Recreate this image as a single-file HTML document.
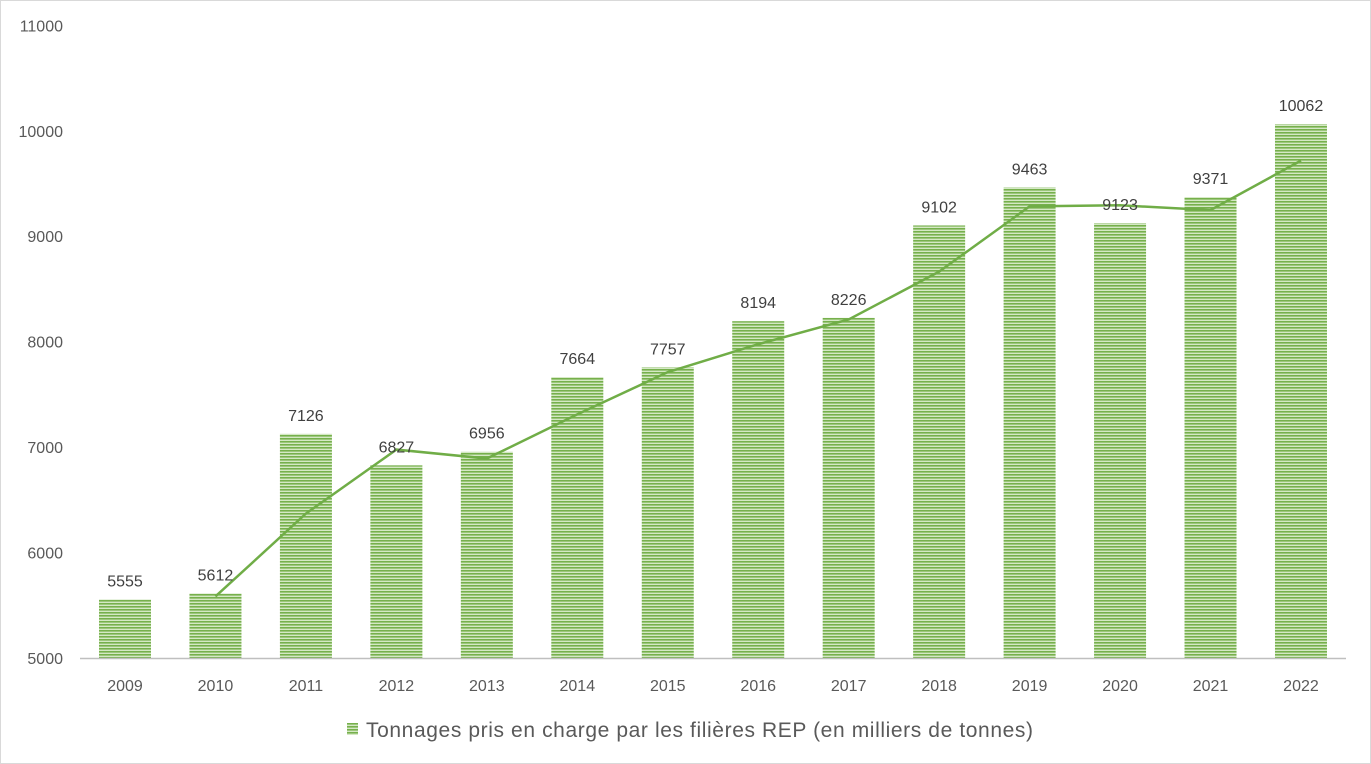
<!DOCTYPE html>
<html><head><meta charset="utf-8"><style>
body{margin:0;background:#fff;}
svg{display:block;font-family:"Liberation Sans",Arial,sans-serif;}
</style></head><body>
<svg id="chart" width="1371" height="764">
<defs>
<pattern id="stripes" width="4" height="3" patternUnits="userSpaceOnUse">
<rect width="4" height="3" fill="#d4e8c4"/>
<rect width="4" height="1.6" fill="#76b04c"/>
</pattern>
</defs>
<rect x="0.5" y="0.5" width="1370" height="763" fill="#fff" stroke="#d9d9d9"/>
<g id="yaxis"></g>
<g id="bars"></g>
<line x1="80" y1="658.5" x2="1346" y2="658.5" stroke="#bfbfbf" stroke-width="1.5"/>
<g id="xaxis"></g>
<polyline id="trend" fill="none" stroke="#70ad47" stroke-width="2.5"/>
<g id="labels"></g>
<g>
<rect x="347" y="723" width="11" height="12" fill="url(#stripes)"/>
<text x="366" y="737" font-size="21" fill="#595959" textLength="667" lengthAdjust="spacing">Tonnages pris en charge par les filières REP (en milliers de tonnes)</text>
</g>
</svg>
<script>
const categories=["2009","2010","2011","2012","2013","2014","2015","2016","2017","2018","2019","2020","2021","2022"];
const values=[5555,5612,7126,6827,6956,7664,7757,8194,8226,9102,9463,9123,9371,10062];
const yTicks=[5000,6000,7000,8000,9000,10000,11000];
const NS="http://www.w3.org/2000/svg";
function y(v){return 658-(v-5000)*105.45/1000;}
function x(i){return 125+i*90.46;}
function mk(tag,attrs,parent){const e=document.createElementNS(NS,tag);for(const k in attrs)e.setAttribute(k,attrs[k]);parent.appendChild(e);return e;}
const ya=document.getElementById('yaxis'),ba=document.getElementById('bars'),xa=document.getElementById('xaxis'),la=document.getElementById('labels');
yTicks.forEach(t=>{const e=mk('text',{x:63,y:y(t)+6,'text-anchor':'end','font-size':'16',fill:'#595959'},ya);e.textContent=t;

});
categories.forEach((c,i)=>{
const r=mk('rect',{x:x(i)-26,y:y(values[i]),width:52,height:658-y(values[i]),fill:'url(#stripes)'},ba);


const t=mk('text',{x:x(i),y:691,'text-anchor':'middle','font-size':'16',fill:'#595959'},xa);t.textContent=c;


const l=mk('text',{x:x(i),y:y(values[i])-13,'text-anchor':'middle','font-size':'16',fill:'#404040'},la);l.textContent=values[i];


});
const pts=[];for(let i=1;i<values.length;i++){pts.push(x(i)+','+y((values[i]+values[i-1])/2));}
document.getElementById('trend').setAttribute('points',pts.join(' '));
</script>
</body></html>
